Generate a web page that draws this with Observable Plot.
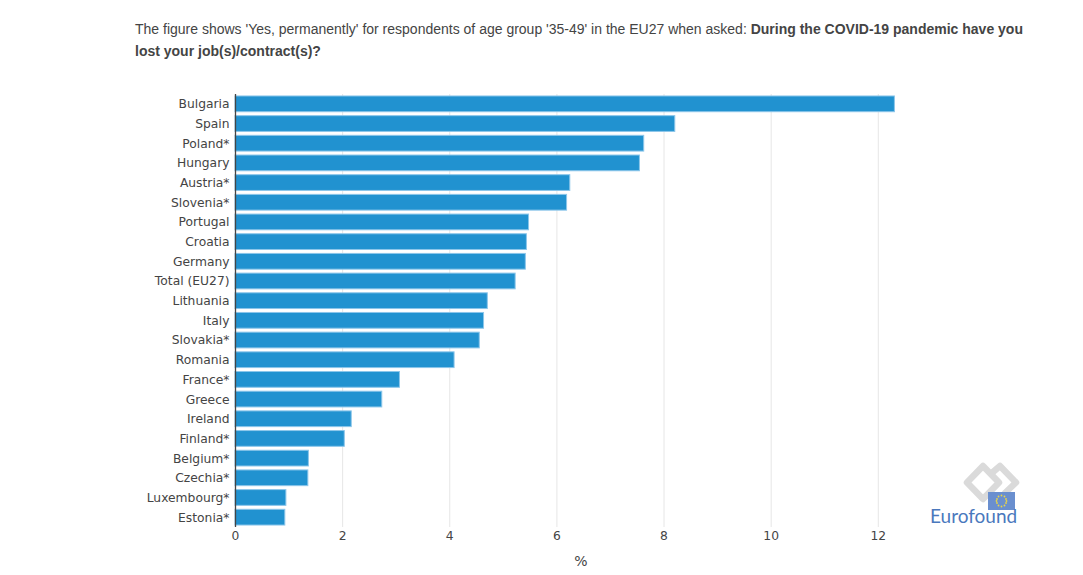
<!DOCTYPE html>
<html><head><meta charset="utf-8">
<script src="https://cdn.jsdelivr.net/npm/d3@7"></script>
<script src="https://cdn.jsdelivr.net/npm/@observablehq/plot@0.6"></script>
<style>
body{margin:0;background:#fff;width:1083px;height:575px;position:relative;overflow:hidden;font-family:"Liberation Sans",Arial,sans-serif}
#title{position:absolute;left:135px;top:18px;width:920px;font-size:14px;line-height:22px;color:#444;white-space:nowrap}
#chart{position:absolute;left:0;top:70px}
#chart svg{display:block}
#logo{position:absolute;left:925px;top:458px}
</style></head><body>
<div id="title"><span>The figure shows 'Yes, permanently' for respondents of age group '35-49' in the EU27 when asked: </span><b>During the COVID-19 pandemic have you</b><br><b>lost your job(s)/contract(s)?</b></div>
<div id="chart"></div>
<svg id="logo" width="110" height="70" viewBox="0 0 110 70">
  <g fill="none" stroke="#dadada" stroke-width="6.5" stroke-linejoin="round" stroke-linecap="round">
    <path d="M58 8 L74 24.5 L58 41 L42 24.5 Z"/>
    <path d="M68 14 L75 8 L91 24.5 L80 35"/>
  </g>
  <rect x="63" y="34" width="27" height="18" fill="#6a8fcf"/>
  <g fill="#e8d44a">
    <circle cx="76.5" cy="37.5" r="0.9"/><circle cx="79.5" cy="38.5" r="0.9"/><circle cx="81" cy="41" r="0.9"/>
    <circle cx="81.5" cy="43" r="0.9"/><circle cx="81" cy="45" r="0.9"/><circle cx="79.5" cy="47.5" r="0.9"/>
    <circle cx="76.5" cy="48.5" r="0.9"/><circle cx="73.5" cy="47.5" r="0.9"/><circle cx="72" cy="45" r="0.9"/>
    <circle cx="71.5" cy="43" r="0.9"/><circle cx="72" cy="41" r="0.9"/><circle cx="73.5" cy="38.5" r="0.9"/>
  </g>
  <text x="5" y="65" font-family="Lato, 'Open Sans', sans-serif" font-size="19" fill="#4a78bd">Eurofound</text>
</svg>
<script>
const countries = ["Bulgaria","Spain","Poland*","Hungary","Austria*","Slovenia*","Portugal","Croatia","Germany","Total (EU27)","Lithuania","Italy","Slovakia*","Romania","France*","Greece","Ireland","Finland*","Belgium*","Czechia*","Luxembourg*","Estonia*"];
const values = [12.31,8.21,7.63,7.55,6.25,6.19,5.48,5.44,5.42,5.23,4.71,4.64,4.56,4.09,3.07,2.74,2.17,2.04,1.37,1.36,0.95,0.93];
const xTicks = [0,2,4,6,8,10,12];
const xLabel = "%";
const data = countries.map((c,i)=>({country:c, value:values[i]}));

const chart = Plot.plot({
  width:1083, height:505,
  marginTop:24, marginBottom:48, marginLeft:235, marginRight:157,
  style:{fontFamily:"'DejaVu Sans', Verdana, sans-serif", fontSize:"12.3px", color:"#444", background:"transparent", overflow:"visible"},
  x:{domain:[0,12.9]},
  y:{domain:countries, paddingInner:0.2, paddingOuter:0.1, round:false},
  marks:[
    Plot.gridX(xTicks,{stroke:"#e6e6e6", strokeOpacity:1}),
    Plot.axisX(xTicks,{tickSize:0, tickPadding:4, label:null, fill:"#444"}),
    Plot.text([xLabel],{frameAnchor:"bottom", dy:38, fontSize:14, fill:"#444"}),
    Plot.axisY({tickSize:0, tickPadding:6, label:null, fill:"#444"}),
    Plot.barX(data,{x:"value", y:"country", fill:"#2192d0", stroke:"#8cc6ea", strokeWidth:1}),
    Plot.ruleX([0],{stroke:"#444", strokeWidth:1.3})
  ]
});
document.getElementById("chart").appendChild(chart);
</script>
</body></html>
